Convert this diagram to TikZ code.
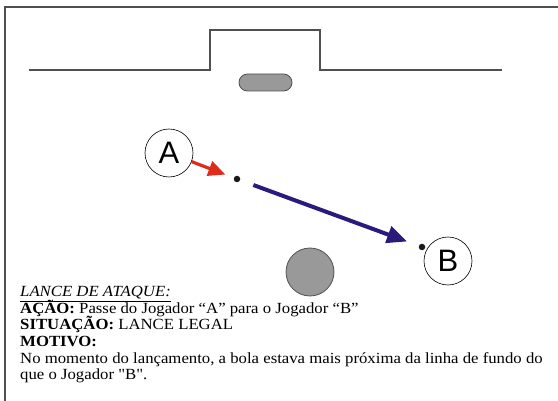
\documentclass[tikz,border=0pt]{standalone}
\usepackage{fontspec}
\setmainfont{Liberation Serif}
\newfontfamily\timesfont{Liberation Serif}[FakeStretch=1.08]
\newfontfamily\arialfont{Liberation Sans}
\usetikzlibrary{arrows.meta}
\definecolor{framegray}{HTML}{505050}
\definecolor{fillgray}{HTML}{999999}
\definecolor{arrred}{HTML}{DE2B1C}
\definecolor{arrblue}{HTML}{2A1A7E}
\tikzset{
  frameline/.style={draw=framegray, line width=1.2pt},
  player/.style={circle, draw=black, line width=0.6pt, fill=white, minimum size=48pt, inner sep=0pt, font=\arialfont\fontsize{31}{31}\selectfont},
  balldot/.style={circle, fill=black!90, minimum size=6.5pt, inner sep=0pt},
  redarr/.style={draw=arrred, line width=3.2pt, -{Triangle[length=17pt,width=15pt]}},
  bluearr/.style={draw=arrblue, line width=4pt, -{Triangle[length=20pt,width=17pt]}},
  txt/.style={anchor=base west, inner sep=0pt, font=\timesfont\fontsize{15.5}{16.5}\selectfont},
}
\begin{document}
\begin{tikzpicture}[x=1pt,y=-1pt]
\useasboundingbox (0,0) rectangle (558,401);
% frame
\draw[frameline] (5,401) -- (5,7) -- (558,7);
% goal line and goal
\draw[frameline] (29,70) -- (210,70) -- (210,30) -- (320,30) -- (320,70) -- (502,70);
% penalty mark (pill)
\draw[draw=framegray, line width=0.8pt, fill=fillgray, rounded corners=8.5pt] (239,74) rectangle (292,91);
% gray circle
\node[circle, draw=framegray, line width=0.8pt, fill=fillgray, minimum size=48pt, inner sep=0pt] (gray) at (310,272) {};
% players
\node[player] (A) at (169,153) {A};
\node[player] (B) at (448,261) {B};
% ball positions
\node[balldot] (ball) at (237,179) {};
\node[balldot] (ballB) at (422,247) {};
% arrows
\draw[redarr, shorten >=9pt] (A) -- (ball);
\draw[bluearr, shorten <=14pt, shorten >=12.5pt] (ball) -- (ballB);
% text
\node[txt] (t1) at (20,297) {\underline{\textit{LANCE DE ATAQUE:}}};
\node[txt] (t2) at (20,313.5) {\textbf{AÇÃO:} Passe do Jogador “A” para o Jogador “B”};
\node[txt] (t3) at (20,330) {\textbf{SITUAÇÃO:} LANCE LEGAL};
\node[txt] (t4) at (20,346.5) {\textbf{MOTIVO:}};
\node[txt] (t5) at (20,363) {No momento do lançamento, a bola estava mais próxima da linha de fundo do};
\node[txt] (t6) at (20,379.5) {que o Jogador "B".};
\end{tikzpicture}
\end{document}
